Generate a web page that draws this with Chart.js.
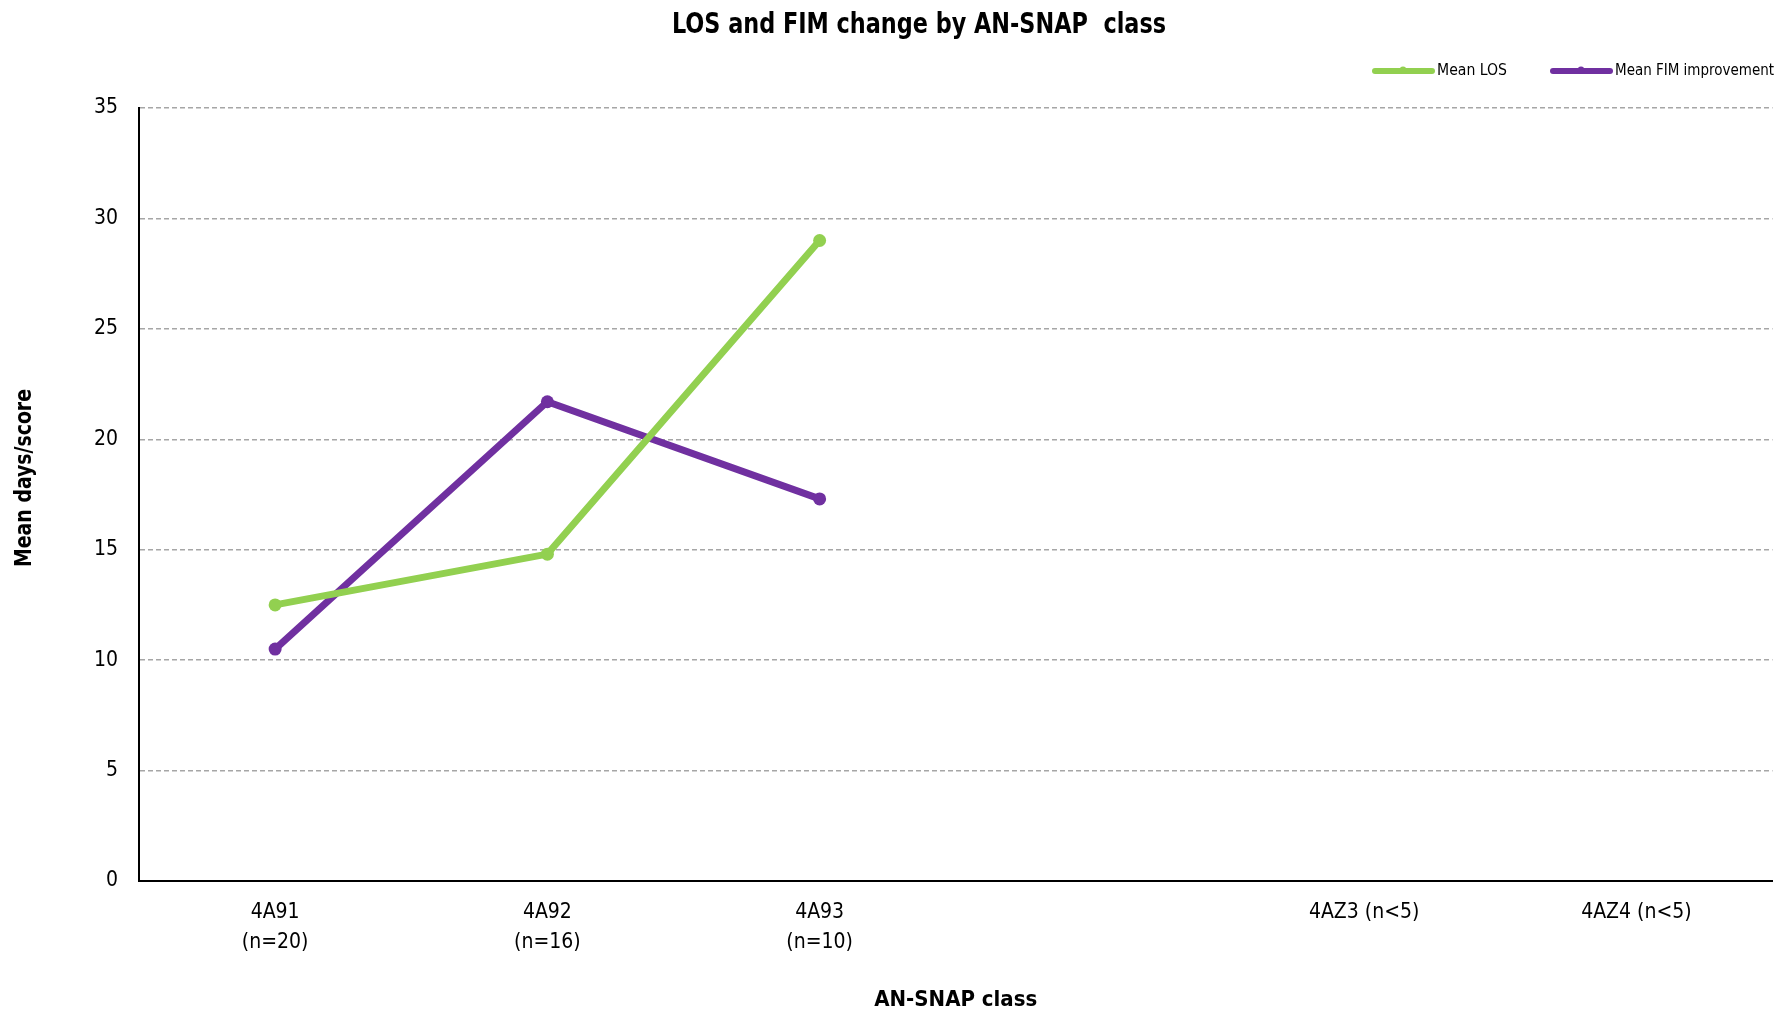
<!DOCTYPE html>
<html>
<head>
<meta charset="utf-8">
<title>LOS and FIM change by AN-SNAP class</title>
<script src="https://cdn.jsdelivr.net/npm/chart.js@4.4.1/dist/chart.umd.min.js"></script>
<style>
    html, body { margin: 0; padding: 0; background: #fff; }
    #wrap { width: 1779px; height: 1013px; }
</style>
</head>
<body>
<div id="wrap"><canvas id="losChart" width="1779" height="1013"></canvas></div>
<script>
// chart data
const chartTitle = 'LOS and FIM change by AN-SNAP  class';
const yAxisTitle = 'Mean days/score';
const xAxisTitle = 'AN-SNAP class';
const classLabels = [['4A91', '(n=20)'], ['4A92', '(n=16)'], ['4A93', '(n=10)'], '', '4AZ3 (n<5)', '4AZ4 (n<5)'];
const meanLOS = [12.5, 14.8, 29.0, null, null, null];
const meanFIM = [10.5, 21.7, 17.3, null, null, null];
const yTicks = [0, 5, 10, 15, 20, 25, 30, 35];

const narrow = "'Liberation Sans Narrow', 'Arial Narrow', 'DejaVu Sans Condensed', sans-serif";

// title, y-axis title and legend drawn on top of the chart
const headerPlugin = {
    id: 'header',
    afterDraw(chart) {
        const ctx = chart.ctx;
        ctx.save();
        ctx.fillStyle = '#000';
        ctx.textBaseline = 'middle';
        ctx.textAlign = 'center';
        ctx.font = 'bold 28px ' + narrow;
        ctx.fillText(chartTitle, 919, 26, 494);

        // y axis title, centred like the original (a bit above the plot middle)
        ctx.save();
        ctx.translate(25, 478);
        ctx.rotate(-Math.PI / 2);
        ctx.font = 'bold 23px ' + narrow;
        ctx.fillText(yAxisTitle, 0, 0, 178);
        ctx.restore();

        // legend, top right
        const y = 71;
        const items = [{ x: 1375, w: 70 }, { x: 1553, w: 159 }];
        ctx.font = '16px ' + narrow;
        ctx.textAlign = 'left';
        chart.data.datasets.forEach((ds, i) => {
            const x = items[i].x;
            ctx.strokeStyle = ds.borderColor;
            ctx.lineWidth = 6;
            ctx.lineCap = 'round';
            ctx.beginPath();
            ctx.moveTo(x, y);
            ctx.lineTo(x + 57, y);
            ctx.stroke();
            ctx.fillStyle = ds.borderColor;
            ctx.beginPath();
            ctx.arc(x + 28, y - 1, 3.5, 0, Math.PI * 2);
            ctx.fill();
            ctx.fillStyle = '#000';
            ctx.fillText(ds.label, x + 62, y, items[i].w);
        });
        ctx.restore();
    }
};

new Chart(document.getElementById('losChart'), {
    type: 'line',
    data: {
        labels: classLabels,
        datasets: [{
            label: 'Mean LOS',
            data: meanLOS,
            borderColor: '#92D050',
            backgroundColor: '#92D050',
            pointBackgroundColor: '#92D050',
            borderWidth: 7,
            pointRadius: 6.5,
            pointBorderWidth: 0,
            tension: 0
        }, {
            label: 'Mean FIM improvement',
            data: meanFIM,
            borderColor: '#7030A0',
            backgroundColor: '#7030A0',
            pointBackgroundColor: '#7030A0',
            borderWidth: 7,
            pointRadius: 6.5,
            pointBorderWidth: 0,
            tension: 0
        }]
    },
    options: {
        responsive: false,
        devicePixelRatio: 1,
        animation: false,
        layout: {
            padding: { top: 108, right: 2, bottom: 0, left: 0 }
        },
        plugins: {
            legend: { display: false },
            title: { display: false },
            tooltip: { enabled: false }
        },
        scales: {
            x: {
                offset: true,
                grid: { display: false, drawTicks: false },
                border: { display: true, color: '#000', width: 2 },
                ticks: {
                    color: '#000',
                    padding: 16,
                    maxRotation: 0,
                    autoSkip: false,
                    font: { family: narrow, size: 21, lineHeight: 1.45 }
                },
                title: {
                    display: true,
                    text: xAxisTitle,
                    color: '#000',
                    font: { family: narrow, size: 22, weight: 'bold', lineHeight: 1.2 },
                    padding: { top: 0, bottom: 0 }
                },
                afterFit(scale) { scale.height = 132; }
            },
            y: {
                min: 0,
                max: 35,
                afterBuildTicks(scale) { scale.ticks = yTicks.map(v => ({ value: v })); },
                grid: {
                    color: '#A6A6A6',
                    lineWidth: 1.5,
                    drawTicks: false
                },
                border: { display: true, color: '#000', width: 2, dash: [5, 3] },
                ticks: {
                    color: '#000',
                    padding: 21,
                    font: { family: narrow, size: 21 }
                },
                afterFit(scale) { scale.width = 139; }
            }
        }
    },
    plugins: [headerPlugin]
});
</script>
</body>
</html>
